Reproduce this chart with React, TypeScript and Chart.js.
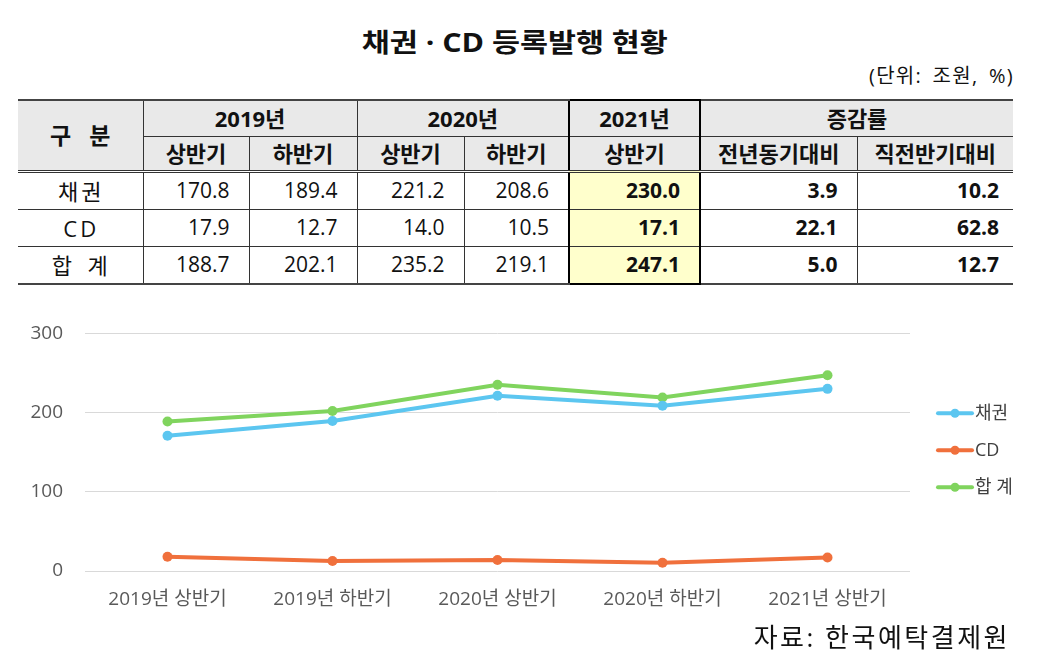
import React, { useEffect, useRef } from "react";
import { Chart, registerables } from "chart.js";

Chart.register(...registerables);

const categories = ["2019년 상반기", "2019년 하반기", "2020년 상반기", "2020년 하반기", "2021년 상반기"];
const seriesNames = ["채권", "CD", "합 계"];
const bonds = [170.8, 189.4, 221.2, 208.6, 230.0];
const cds = [17.9, 12.7, 14.0, 10.5, 17.1];
const totals = [188.7, 202.1, 235.2, 219.1, 247.1];
const seriesColors = ["#5cc6f0", "#f0703c", "#80d45e"];
const yTicks = [0, 100, 200, 300];

const tableYears = ["2019년", "2020년", "2021년"];
const tableHalves = ["상반기", "하반기", "상반기", "하반기", "상반기"];
const rateHeaders = ["전년동기대비", "직전반기대비"];
const rowLabels = ["채권", "CD", "합 계"];
const yoyRates = ["3.9", "22.1", "5.0"];
const hohRates = ["10.2", "62.8", "12.7"];

const FONT = '"Open Sans", "Noto Sans CJK KR", sans-serif';

const legendPlugin = {
  id: "lineLegend",
  afterDraw(chart: any) {
    const { ctx, chartArea } = chart;
    const x0 = chartArea.right + 28;
    const cy = (chartArea.top + chartArea.bottom) / 2 - 2;
    const n = chart.data.datasets.length;
    chart.data.datasets.forEach((ds: any, i: number) => {
      const y = cy + (i - (n - 1) / 2) * 37;
      ctx.save();
      ctx.strokeStyle = ds.borderColor;
      ctx.lineWidth = 4;
      ctx.lineCap = "round";
      ctx.beginPath();
      ctx.moveTo(x0, y);
      ctx.lineTo(x0 + 34, y);
      ctx.stroke();
      ctx.fillStyle = ds.borderColor;
      ctx.beginPath();
      ctx.arc(x0 + 17, y, 4.5, 0, Math.PI * 2);
      ctx.fill();
      ctx.fillStyle = "#404040";
      ctx.font = `18px ${FONT}`;
      ctx.textBaseline = "middle";
      ctx.textAlign = "left";
      ctx.fillText(ds.label, x0 + 37, y + 1);
      ctx.restore();
    });
  },
};

function LineChart() {
  const ref = useRef<HTMLCanvasElement | null>(null);
  useEffect(() => {
    if (!ref.current) return;
    const values = [bonds, cds, totals];
    const chart = new Chart(ref.current, {
      type: "line",
      data: {
        labels: categories,
        datasets: values.map((v, i) => ({
          label: seriesNames[i],
          data: v,
          borderColor: seriesColors[i],
          backgroundColor: seriesColors[i],
          pointBackgroundColor: seriesColors[i],
          pointBorderWidth: 0,
          pointRadius: 5,
          borderWidth: 4,
          tension: 0,
        })),
      },
      options: {
        animation: false,
        responsive: false,
        layout: { padding: { top: 0, right: 127, left: 0, bottom: 0 } },
        plugins: { legend: { display: false }, tooltip: { enabled: false } },
        scales: {
          x: {
            offset: true,
            grid: { display: false, drawTicks: false },
            border: { display: false },
            ticks: { color: "#595959", font: { family: FONT, size: 19 }, padding: 17, maxRotation: 0 },
            afterFit: (s: any) => { s.height = 59; },
          },
          y: {
            min: 0,
            max: 300,
            afterBuildTicks: (s: any) => { s.ticks = yTicks.map((v) => ({ value: v })); },
            grid: { color: "#d9d9d9", lineWidth: 1, drawTicks: false },
            border: { display: false },
            ticks: { color: "#595959", font: { family: FONT, size: 19 }, padding: 22 },
            afterFit: (s: any) => { s.width = 75; },
          },
        },
      },
      plugins: [legendPlugin],
    });
    return () => chart.destroy();
  }, []);
  return <canvas ref={ref} width={1027} height={330} style={{ position: "absolute", left: 10, top: 300, width: 1027, height: 330 }} />;
}

const border = "1px solid #333";
const thick = "2px solid #000";
const outer = "2px solid #444";
const dbl = "3px double #333";

function DataTable() {
  const colWidths = [125, 106, 108, 107, 105, 131, 157, 156];
  const hdr: React.CSSProperties = { background: "#e9e9e9", fontWeight: 700, fontSize: 22, textAlign: "center", padding: 0 };
  const cell: React.CSSProperties = { fontSize: 21, textAlign: "right", paddingRight: 19, paddingLeft: 0, height: 34, borderTop: border, borderLeft: border };
  const dataRows = [bonds, cds, totals];
  return (
    <table style={{ position: "absolute", left: 18, top: 99, width: 995, borderCollapse: "collapse", tableLayout: "fixed", fontFamily: FONT, color: "#111", lineHeight: 1 }}>
      <colgroup>{colWidths.map((w, i) => <col key={i} style={{ width: w }} />)}</colgroup>
      <tbody>
        <tr style={{ height: 36 }}>
          <td rowSpan={2} style={{ ...hdr, fontSize: 23, borderTop: outer, borderBottom: dbl, letterSpacing: 6, paddingLeft: 6 }}>구 분</td>
          <td colSpan={2} style={{ ...hdr, borderTop: outer, borderLeft: border, borderBottom: border }}>{tableYears[0]}</td>
          <td colSpan={2} style={{ ...hdr, borderTop: outer, borderLeft: border, borderBottom: border }}>{tableYears[1]}</td>
          <td style={{ ...hdr, border: thick, borderBottom: border }}>{tableYears[2]}</td>
          <td colSpan={2} style={{ ...hdr, borderTop: outer, borderBottom: border }}>증감률</td>
        </tr>
        <tr style={{ height: 35 }}>
          {tableHalves.map((h, i) => (
            <td key={i} style={{ ...hdr, borderLeft: i === 4 ? thick : border, borderRight: i === 4 ? thick : undefined, borderBottom: dbl }}>{h}</td>
          ))}
          {rateHeaders.map((h, i) => (
            <td key={i} style={{ ...hdr, borderLeft: i === 0 ? thick : border, borderBottom: dbl }}>{h}</td>
          ))}
        </tr>
        {dataRows.map((row, r) => (
          <tr key={r} style={{ height: 35 }}>
            <td style={{ fontSize: 22, textAlign: "center", borderTop: border, borderBottom: r === 2 ? outer : border, letterSpacing: r === 1 ? 3 : r === 2 ? 5 : 3, paddingLeft: r === 0 ? 3 : r === 1 ? 3 : 5 }}>{rowLabels[r]}</td>
            {row.map((v, c) => (
              <td key={c} style={{
                ...cell,
                borderBottom: r === 2 ? (c === 4 ? thick : outer) : border,
                background: c === 4 ? "#ffffcc" : undefined,
                fontWeight: c === 4 ? 700 : 400,
                borderLeft: c === 4 ? thick : border,
                borderRight: c === 4 ? thick : undefined,
              }}>{v.toFixed(1)}</td>
            ))}
            <td style={{ ...cell, fontWeight: 700, borderLeft: thick, borderBottom: r === 2 ? outer : border }}>{yoyRates[r]}</td>
            <td style={{ ...cell, fontWeight: 700, paddingRight: 14, borderBottom: r === 2 ? outer : border }}>{hohRates[r]}</td>
          </tr>
        ))}
      </tbody>
    </table>
  );
}

export default function App() {
  return (
    <div style={{ position: "absolute", left: 0, top: 0, width: 1037, height: 661, background: "#fff", fontFamily: FONT, overflow: "hidden" }}>
      <div style={{ position: "absolute", left: 0, width: 1029, top: 24, textAlign: "center", lineHeight: "36px" }}>
        <span style={{ display: "inline-block", fontSize: 26, fontWeight: 700, color: "#111", transform: "scaleX(1.17)", whiteSpace: "pre" }}>채권 · CD 등록발행 현황</span>
      </div>
      <div style={{ position: "absolute", right: 23, top: 64, fontSize: 20, color: "#111", lineHeight: "24px", letterSpacing: 1.3, wordSpacing: 4, whiteSpace: "pre" }}>(단위: 조원, %)</div>
      <DataTable />
      <LineChart />
      <div style={{ position: "absolute", right: 27, top: 619, fontSize: 26, color: "#111", lineHeight: "36px", letterSpacing: 2.5, whiteSpace: "pre" }}>자료: 한국예탁결제원</div>
    </div>
  );
}
